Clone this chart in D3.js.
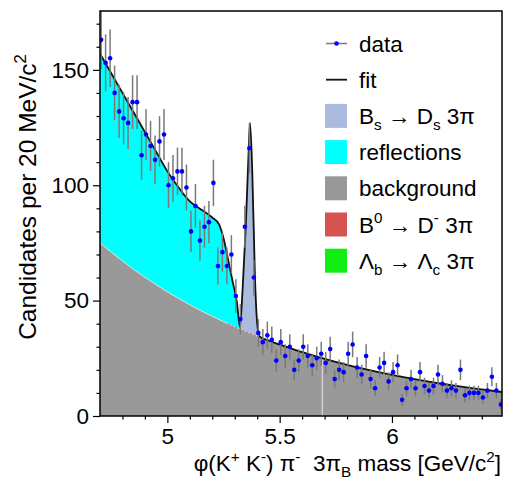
<!DOCTYPE html>
<html>
<head>
<meta charset="utf-8">
<script src="https://cdn.jsdelivr.net/npm/d3@7"></script>
<style>
  body { margin: 0; background: #fff; }
  svg { font-family: "Liberation Sans", Arial, Helvetica, sans-serif; }
</style>
</head>
<body>
<svg id="chart"></svg>
<script>
// histogram: 20 MeV bins
const binStart = 4.705
const binWidth = 0.02
const counts = [163, 153, 155, 140, 132, 129, 127, 136, 136, 113,
  122, 117, 111, 119, 122, 100, 103, 106, 106, 99,
  80, 91, 76, 82, 84, 101, 65, 71, 65, 70,
  52, 42, 82, 116, 60, 36, 32, 35, 33, 24,
  32, 26, 30, 20, 24, 30, 26, 22, 25, 27,
  23, 29, 16, 20, 19, 27, 31, 21, 18, 26,
  16, 12, 21, 23, 15, 19, 22, 7, 12, 16,
  12, 19, 13, 11, 13, 18, 14, 11, 12, 11,
  20, 9, 10, 10, 10, 8, 11, 17, 11, 5]

// fit components read along the mass axis (stacked)
const fitMass = [4.70, 4.75, 4.80, 4.85, 4.90, 4.95, 5.00, 5.05, 5.10, 5.15,
  5.20, 5.23, 5.25, 5.27, 5.29, 5.31, 5.323, 5.335, 5.349, 5.36,
  5.368, 5.378, 5.39, 5.40, 5.41, 5.45, 5.50, 5.60, 5.70, 5.80,
  5.90, 6.00, 6.10, 6.20, 6.30, 6.40, 6.49]
const bgFit = [75.0, 71.0, 67.2, 63.5, 60.1, 56.9, 53.8, 50.9, 48.2, 45.6,
  43.2, 41.8, 40.8, 40.0, 39.1, 38.2, 37.7, 37.2, 36.6, 36.2,
  35.9, 35.5, 35.0, 34.6, 34.2, 32.7, 31.0, 27.7, 24.8, 22.2,
  19.9, 17.8, 16.0, 14.3, 12.8, 11.5, 10.4]
const reflFit = [157, 148.5, 140, 131.5, 123, 114.5, 106, 99, 93, 89.5,
  86, 83, 77, 68, 58.5, 49, 37.7, 37.2, 36.6, 36.2,
  35.9, 35.5, 35.0, 34.6, 34.2, 32.7, 31.0, 27.7, 24.8, 22.2,
  19.9, 17.8, 16.0, 14.3, 12.8, 11.5, 10.4]
const totalFit = [157, 148.5, 140, 131.5, 123, 114.5, 106, 99, 93, 89.5,
  86, 83, 77, 68, 58.5, 49, 38.5, 55, 82, 110,
  127, 106, 60, 40, 34.5, 32.7, 31.0, 27.7, 24.8, 22.2,
  19.9, 17.8, 16.0, 14.3, 12.8, 11.5, 10.4]

// small B0 component, only visible as a red dashed edge
const b0Range = [5.26, 5.42]
// faint vertical stroke in the background fill
const stripeMass = 5.69

const yMajor = [0, 50, 100, 150]
const yMinor = [10, 20, 30, 40, 60, 70, 80, 90, 110, 120, 130, 140, 160, 170]
const xMajor = [5, 5.5, 6]
const xMinor = [4.8, 4.9, 5.1, 5.2, 5.3, 5.4, 5.6, 5.7, 5.8, 5.9, 6.1, 6.2, 6.3, 6.4]

const colors = { signal: "#aabbdd", refl: "#00ffff", bg: "#999999", b0: "#d6544f", lb: "#11ee11" }

// legend rows: [kind, colour, text parts]
const legendRows = [
  ["data", null, [["data", ""]]],
  ["fit", null, [["fit", ""]]],
  ["box", colors.signal, [["B", ""], ["s", "sub"], [" \u2192 D", ""], ["s", "sub"], [" 3\u03c0", ""]]],
  ["box", colors.refl, [["reflections", ""]]],
  ["box", colors.bg, [["background", ""]]],
  ["box", colors.b0, [["B", ""], ["0", "sup"], [" \u2192 D", ""], ["-", "sup"], [" 3\u03c0", ""]]],
  ["box", colors.lb, [["\u039b", ""], ["b", "sub"], [" \u2192 \u039b", ""], ["c", "sub"], [" 3\u03c0", ""]]]
]
const xTitle = [["\u03c6(K", ""], ["+", "sup"], [" K", ""], ["-", "sup"], [") \u03c0", ""], ["-", "sup"], ["  3\u03c0", ""], ["B", "sub"], [" mass [GeV/c", ""], ["2", "sup"], ["]", ""]]
const yTitle = [["Candidates per 20 MeV/c", ""], ["2", "sup"]]

const width = 506
const height = 480
const plot = { left: 100, right: 502, top: 11, bottom: 416 }
const fs = 22.5

const svg = d3.select("#chart").attr("width", width).attr("height", height)

const x = d3.scaleLinear().domain([4.70, 6.49]).range([plot.left, plot.right])
const y = d3.scaleLinear().domain([0, 175.5]).range([plot.bottom, plot.top])

svg.append("clipPath").attr("id", "clip")
  .append("rect")
  .attr("x", plot.left).attr("y", plot.top)
  .attr("width", plot.right - plot.left).attr("height", plot.bottom - plot.top)

const g = svg.append("g").attr("clip-path", "url(#clip)")

const idx = d3.range(fitMass.length)
const area = (lo, hi) => d3.area()
  .x((i) => x(fitMass[i]))
  .y0((i) => y(lo(i)))
  .y1((i) => y(hi(i)))
  .curve(d3.curveMonotoneX)

// stacked fills
g.append("path").datum(idx).attr("fill", colors.bg).attr("d", area(() => 0, (i) => bgFit[i]))
g.append("path").datum(idx).attr("fill", colors.refl).attr("d", area((i) => bgFit[i], (i) => reflFit[i]))
g.append("path").datum(idx).attr("fill", colors.signal).attr("d", area((i) => reflFit[i], (i) => totalFit[i]))

const lineOf = (arr) => d3.line().x((i) => x(fitMass[i])).y((i) => y(arr[i])).curve(d3.curveMonotoneX)

// light edge on the background shape
g.append("path").datum(idx).attr("fill", "none").attr("stroke", "#dddddd").attr("stroke-width", 1).attr("d", lineOf(bgFit))
g.append("path")
  .datum(idx.filter((i) => fitMass[i] >= b0Range[0] && fitMass[i] <= b0Range[1]))
  .attr("fill", "none").attr("stroke", colors.b0).attr("stroke-width", 1)
  .attr("stroke-dasharray", "2,2").attr("d", lineOf(bgFit))

g.append("line")
  .attr("x1", x(stripeMass)).attr("x2", x(stripeMass))
  .attr("y1", y(0)).attr("y2", y(27))
  .attr("stroke", "#cfcfcf").attr("stroke-width", 1.5)

// fit line
g.append("path").datum(idx).attr("fill", "none").attr("stroke", "#111").attr("stroke-width", 1.8)
  .attr("stroke-linejoin", "round").attr("d", lineOf(totalFit))

// data points with poisson errors
const pts = counts.map((c, i) => ({ m: binStart + i * binWidth, n: c }))
g.selectAll(".err").data(pts).enter().append("line")
  .attr("x1", (d) => x(d.m)).attr("x2", (d) => x(d.m))
  .attr("y1", (d) => y(d.n - Math.sqrt(d.n))).attr("y2", (d) => y(d.n + Math.sqrt(d.n)))
  .attr("stroke", "#7a7a7a").attr("stroke-width", 1.5)
g.selectAll(".dot").data(pts).enter().append("circle")
  .attr("cx", (d) => x(d.m)).attr("cy", (d) => y(d.n)).attr("r", 2.3)
  .attr("fill", "#0000ff")

// frame
svg.append("rect")
  .attr("x", plot.left).attr("y", plot.top)
  .attr("width", plot.right - plot.left).attr("height", plot.bottom - plot.top)
  .attr("fill", "none").attr("stroke", "#000").attr("stroke-width", 1.5)

// axes
const yAxis = d3.axisLeft(y).tickValues(yMajor).tickSize(7).tickPadding(4).tickFormat(d3.format("d"))
const yAxisMinor = d3.axisLeft(y).tickValues(yMinor).tickSize(3.5).tickFormat("")
const xAxis = d3.axisBottom(x).tickValues(xMajor).tickSize(7).tickPadding(5).tickFormat((d) => d)
const xAxisMinor = d3.axisBottom(x).tickValues(xMinor).tickSize(3.5).tickFormat("")

const styleAxis = (sel) => {
  sel.select(".domain").remove()
  sel.selectAll("line").attr("stroke", "#000").attr("stroke-width", 1.2)
  sel.selectAll("text").attr("font-size", fs).attr("fill", "#000").attr("font-family", null)
}
svg.append("g").attr("transform", `translate(${plot.left},0)`).call(yAxis).call(styleAxis)
svg.append("g").attr("transform", `translate(${plot.left},0)`).call(yAxisMinor).call(styleAxis)
svg.append("g").attr("transform", `translate(0,${plot.bottom})`).call(xAxis).call(styleAxis)
svg.append("g").attr("transform", `translate(0,${plot.bottom})`).call(xAxisMinor).call(styleAxis)

// rich text with sub/superscripts
function rich(text, parts, size) {
  let shift = 0
  parts.forEach(([s, mode]) => {
    const target = mode === "sup" ? -0.42 * size : mode === "sub" ? 0.28 * size : 0
    text.append("tspan")
      .attr("dy", target - shift)
      .attr("font-size", mode ? size * 0.68 : size)
      .text(s)
    shift = target
  })
  return text
}

svg.append("text")
  .attr("x", 501).attr("y", 471)
  .attr("text-anchor", "end").style("white-space", "pre")
  .call((t) => rich(t, xTitle, fs))

svg.append("text")
  .attr("transform", "translate(36,197) rotate(-90)")
  .attr("text-anchor", "middle")
  .call((t) => rich(t, yTitle, 24.5))

// legend
const legend = svg.append("g")
const rowY = (i) => 43.5 + i * 36.2
legendRows.forEach(([kind, col, parts], i) => {
  const cy = rowY(i)
  if (kind === "data") {
    legend.append("line").attr("x1", 326).attr("x2", 347).attr("y1", cy).attr("y2", cy)
      .attr("stroke", "#7a7a7a").attr("stroke-width", 1.5)
    legend.append("circle").attr("cx", 336.5).attr("cy", cy).attr("r", 2.3).attr("fill", "#0000ff")
  } else if (kind === "fit") {
    legend.append("line").attr("x1", 326).attr("x2", 347).attr("y1", cy).attr("y2", cy)
      .attr("stroke", "#111").attr("stroke-width", 1.8)
  } else {
    legend.append("rect").attr("x", 325).attr("y", cy - 12).attr("width", 22).attr("height", 24)
      .attr("fill", col)
  }
  legend.append("text").attr("x", 359).attr("y", cy + 8)
    .call((t) => rich(t, parts, fs))
})
</script>
</body>
</html>
